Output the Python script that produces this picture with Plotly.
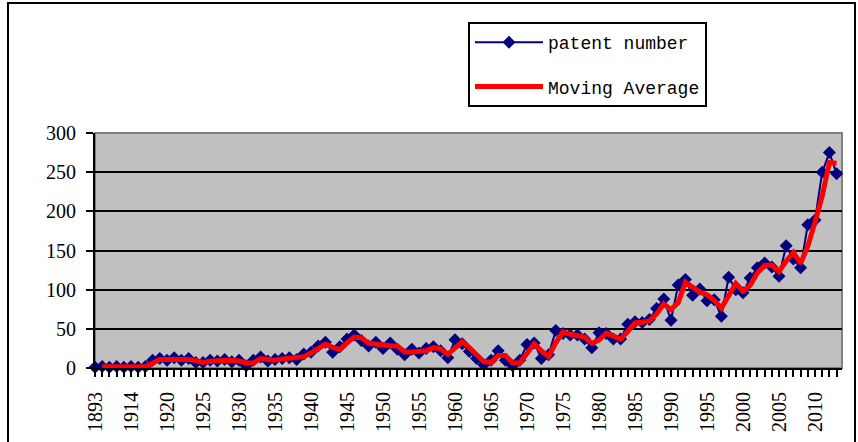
import plotly.graph_objects as go
import pandas as pd

# Category years (only every 5th label is printed on the axis)
years = ['1893', '1898', '1902', '1906', '1910', '1914', '1915', '1916', '1917', '1919'] + \
        [str(y) for y in range(1920, 2014)]

patent_number = [
    1, 2, 1, 2, 1, 2, 1, 2, 10, 12,
    10, 13, 10, 12, 7, 7, 10, 9, 11, 8,
    10, 3, 10, 14, 9, 11, 12, 13, 11, 18,
    20, 28, 33, 20, 27, 37, 42, 35, 28, 33,
    25, 32, 24, 17, 24, 19, 25, 27, 22, 13,
    36, 31, 21, 12, 4, 10, 22, 10, 3, 10,
    30, 32, 12, 17, 48, 44, 42, 42, 37, 26,
    45, 44, 37, 37, 56, 59, 58, 62, 76, 88,
    61, 106, 113, 93, 101, 86, 87, 66, 116, 100,
    96, 115, 128, 134, 129, 117, 156, 139, 128, 183,
    189, 250, 275, 248,
]

tick_labels = ['1893', '1914', '1920', '1925', '1930', '1935', '1940', '1945', '1950',
               '1955', '1960', '1965', '1970', '1975', '1980', '1985', '1990', '1995',
               '2000', '2005', '2010']

# Excel-style 2-period moving average trendline of the data
moving_average = pd.Series(patent_number, dtype=float).rolling(2).mean().tolist()

fig = go.Figure()
fig.add_trace(go.Scatter(
    x=years, y=patent_number, mode='lines+markers', name='patent number',
    line=dict(color='#000080', width=2),
    marker=dict(symbol='diamond', size=10, color='#000080'),
    cliponaxis=False, legendgroup='a'))
fig.add_trace(go.Scatter(
    x=years, y=moving_average, mode='lines', name='Moving Average',
    line=dict(color='#FF0000', width=5), legendgroup='b'))

W, H = 858, 442
L, R, T, B = 95, 16, 133, 74
pw, ph = W - L - R, H - T - B

def px(x):
    return (x - L) / pw

def py(y):
    return (H - B - y) / ph

fig.update_layout(
    width=W, height=H, autosize=False,
    margin=dict(l=L, r=R, t=T, b=B, pad=0),
    paper_bgcolor='white', plot_bgcolor='#C0C0C0',
    font=dict(family='Liberation Serif', size=20, color='black'),
    showlegend=True,
    legend=dict(x=px(468), y=py(22), xanchor='left', yanchor='top',
                bgcolor='white', bordercolor='black', borderwidth=2,
                font=dict(family='Liberation Mono', size=18, color='black'),
                itemwidth=68, traceorder='grouped', tracegroupgap=18),
    xaxis=dict(type='category', range=[0, 103.75],
               tickmode='array', tickvals=years,
               ticktext=[y if y in tick_labels else '' for y in years],
               tickangle=-90, ticks='outside', ticklen=7, tickwidth=2, tickcolor='black',
               ticklabelstandoff=7,
               showline=True, linecolor='black', linewidth=2, showgrid=False,
               zeroline=False, automargin=False),
    yaxis=dict(range=[0, 300], dtick=50, ticks='outside', ticklen=7, tickwidth=2,
               tickcolor='black', showline=True, linecolor='black', linewidth=2,
               ticklabelstandoff=6,
               showgrid=True, gridcolor='black', gridwidth=2, zeroline=False,
               automargin=False),
    shapes=[
        dict(type='rect', xref='paper', yref='paper', x0=0, x1=1, y0=0, y1=1,
             line=dict(color='#808080', width=2), layer='below'),
        dict(type='rect', xref='paper', yref='paper', x0=px(8), x1=px(855),
             y0=py(446), y1=py(3), line=dict(color='black', width=2)),
    ],
)

fig.write_html('out.html', config={'displayModeBar': False},
               post_script="document.body.style.margin='0';document.body.style.overflow='hidden';")
